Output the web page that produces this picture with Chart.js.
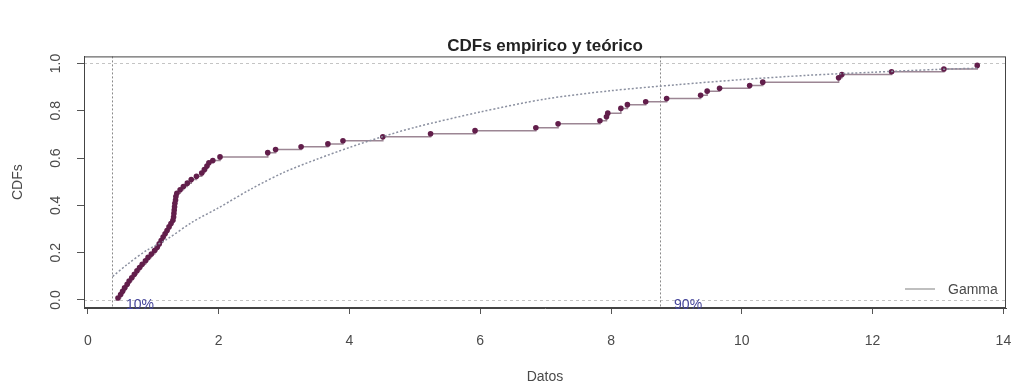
<!DOCTYPE html>
<html>
<head>
<meta charset="utf-8">
<script src="https://cdn.jsdelivr.net/npm/chart.js@4.4.1/dist/chart.umd.min.js"></script>
<style>
html, body { margin: 0; padding: 0; background: #fff; }
</style>
</head>
<body>
<canvas id="cdfChart" width="1016" height="386"></canvas>
<script>
const ecdfX = [0.46, 0.50, 0.53, 0.56, 0.60, 0.63, 0.67, 0.71, 0.75, 0.79,
  0.83, 0.88, 0.92, 0.97, 1.02, 1.06, 1.09, 1.12, 1.15, 1.18,
  1.21, 1.24, 1.27, 1.30, 1.31, 1.315, 1.32, 1.325, 1.33, 1.34,
  1.345, 1.36, 1.41, 1.46, 1.52, 1.58, 1.66, 1.74, 1.78, 1.82,
  1.85, 1.91, 2.02, 2.75, 2.87, 3.26, 3.67, 3.90, 4.51, 5.24,
  5.92, 6.85, 7.19, 7.83, 7.93, 7.95, 8.15, 8.25, 8.53, 8.85,
  9.37, 9.47, 9.66, 10.12, 10.32, 11.48, 11.53, 12.29, 13.09, 13.60];
const ecdfY = [0.008, 0.023, 0.037, 0.051, 0.066, 0.080, 0.094, 0.109, 0.123, 0.137,
  0.151, 0.166, 0.180, 0.194, 0.209, 0.223, 0.237, 0.251, 0.266, 0.280,
  0.294, 0.309, 0.323, 0.337, 0.351, 0.366, 0.380, 0.394, 0.409, 0.423,
  0.437, 0.451, 0.466, 0.480, 0.494, 0.509, 0.523, 0.537, 0.551, 0.566,
  0.580, 0.590, 0.605, 0.623, 0.636, 0.648, 0.660, 0.673, 0.690, 0.703,
  0.716, 0.728, 0.745, 0.758, 0.775, 0.790, 0.810, 0.826, 0.838, 0.852,
  0.866, 0.883, 0.895, 0.907, 0.921, 0.940, 0.953, 0.965, 0.977, 0.992];

// fitted Gamma CDF
const gammaX = [0.38, 0.60, 0.90, 1.20, 1.60, 2.00, 2.50, 3.00, 3.50, 4.00, 4.50,
  5.00, 6.00, 7.00, 8.00, 9.00, 10.00, 11.00, 12.00, 13.00, 13.60];
const gammaY = [0.100, 0.150, 0.210, 0.255, 0.330, 0.390, 0.470, 0.540, 0.595, 0.645, 0.690,
  0.730, 0.795, 0.850, 0.885, 0.910, 0.932, 0.950, 0.963, 0.975, 0.980];

const quantiles = [0.367, 8.75];
const quantileLabels = ['10%', '90%'];
const xTicks = [0, 2, 4, 6, 8, 10, 12, 14];
const yTicks = [0, 0.2, 0.4, 0.6, 0.8, 1.0];

const FONT = '"Liberation Sans", Arial, sans-serif';

const rPlot = {
  id: 'rPlot',
  beforeDatasetsDraw(chart) {
    const {ctx, chartArea: a, scales: {x, y}} = chart;
    ctx.save();
    ctx.lineWidth = 1;
    ctx.strokeStyle = '#c4c4c4';
    ctx.setLineDash([3, 3]);
    [0, 1].forEach(v => {
      const py = Math.round(y.getPixelForValue(v)) + 0.5;
      ctx.beginPath(); ctx.moveTo(a.left, py); ctx.lineTo(a.right, py); ctx.stroke();
    });
    ctx.strokeStyle = '#8a8a8a';
    ctx.setLineDash([2, 2]);
    quantiles.forEach(q => {
      const px = Math.round(x.getPixelForValue(q)) + 0.5;
      ctx.beginPath(); ctx.moveTo(px, a.top); ctx.lineTo(px, a.bottom); ctx.stroke();
    });
    ctx.restore();
  },
  afterDraw(chart) {
    const {ctx, chartArea: a, scales: {x, y}} = chart;
    ctx.save();
    ctx.strokeStyle = '#444';
    ctx.lineWidth = 1;
    ctx.strokeRect(a.left + 0.5, a.top + 0.5, a.width - 1, a.height - 1);

    ctx.font = '14px ' + FONT;
    ctx.fillStyle = '#4a4a4a';
    ctx.textAlign = 'center';
    ctx.textBaseline = 'middle';
    y.ticks.forEach(t => {
      ctx.save();
      ctx.translate(56, y.getPixelForValue(t.value));
      ctx.rotate(-Math.PI / 2);
      ctx.fillText(t.value.toFixed(1), 0, 0);
      ctx.restore();
    });

    ctx.fillStyle = '#45459a';
    ctx.textAlign = 'left';
    ctx.textBaseline = 'alphabetic';
    quantiles.forEach((q, i) => {
      ctx.fillText(quantileLabels[i], x.getPixelForValue(q) + 14, y.getPixelForValue(0) + 9);
    });

    // legend
    ctx.strokeStyle = '#aaa';
    ctx.lineWidth = 1.5;
    ctx.beginPath(); ctx.moveTo(905, 289); ctx.lineTo(935, 289); ctx.stroke();
    ctx.fillStyle = '#4a4a4a';
    ctx.textBaseline = 'middle';
    ctx.fillText('Gamma', 948, 290);
    ctx.restore();
  }
};

new Chart(document.getElementById('cdfChart'), {
  type: 'line',
  data: {
    datasets: [{
      label: 'Gamma',
      data: gammaX.map((v, i) => ({x: v, y: gammaY[i]})),
      borderColor: '#8b90a0',
      borderWidth: 1.5,
      borderDash: [2, 2],
      pointRadius: 0,
      tension: 0.3
    }, {
      label: 'ECDF',
      data: ecdfX.map((v, i) => ({x: v, y: ecdfY[i]})),
      stepped: 'before',
      borderColor: '#9c8694',
      borderWidth: 1.5,
      pointRadius: 2.8,
      pointBackgroundColor: '#621e4b',
      pointBorderColor: '#621e4b',
      pointBorderWidth: 0
    }]
  },
  options: {
    responsive: false,
    animation: false,
    layout: { padding: { left: 0, right: 10, top: 0, bottom: 0 } },
    plugins: {
      legend: { display: false },
      tooltip: { enabled: false },
      title: {
        display: true,
        text: 'CDFs empirico y teórico',
        fullSize: false,
        color: '#222',
        font: { family: FONT, size: 17, weight: 'bold' },
        padding: { top: 36, bottom: 0 }
      }
    },
    scales: {
      x: {
        type: 'linear',
        min: -0.06,
        max: 14.04,
        afterBuildTicks: s => { s.ticks = xTicks.map(v => ({value: v})); },
        afterFit: s => { s.height = 78; s.paddingLeft = 0; s.paddingRight = 0; },
        ticks: { color: '#4a4a4a', padding: 19, font: { family: FONT, size: 14 } },
        grid: { drawOnChartArea: false, drawTicks: true, tickLength: 6, color: '#555' },
        border: { display: true, color: '#444' },
        title: { display: true, text: 'Datos', color: '#4a4a4a', font: { family: FONT, size: 14 }, padding: { top: 0, bottom: 0 } }
      },
      y: {
        type: 'linear',
        min: -0.034,
        max: 1.03,
        afterBuildTicks: s => { s.ticks = yTicks.map(v => ({value: v})); },
        afterFit: s => { s.width = 84; s.paddingTop = 0; s.paddingBottom = 0; },
        ticks: { display: false },
        grid: { drawOnChartArea: false, drawTicks: true, tickLength: 7, color: '#555' },
        border: { display: true, color: '#444' },
        title: { display: true, text: 'CDFs', color: '#4a4a4a', font: { family: FONT, size: 14 }, padding: { top: 10, bottom: 0 } }
      }
    }
  },
  plugins: [rPlot]
});
</script>
</body>
</html>
